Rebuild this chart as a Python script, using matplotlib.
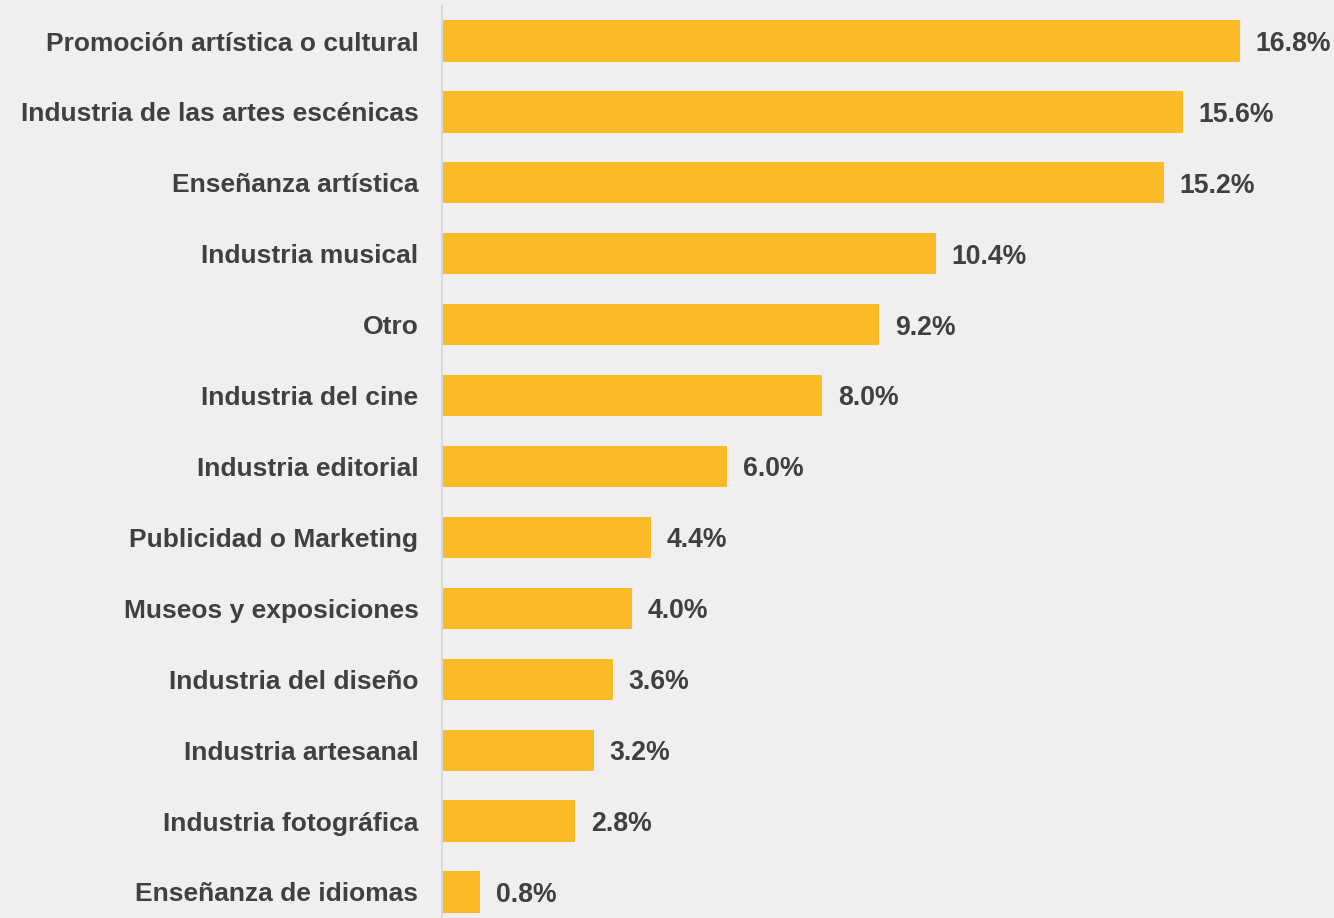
import matplotlib.pyplot as plt

# data
categories = ["Promoción artística o cultural", "Industria de las artes escénicas",
              "Enseñanza artística", "Industria musical", "Otro", "Industria del cine",
              "Industria editorial", "Publicidad o Marketing", "Museos y exposiciones",
              "Industria del diseño", "Industria artesanal", "Industria fotográfica",
              "Enseñanza de idiomas"]
values = [16.8, 15.6, 15.2, 10.4, 9.2, 8.0, 6.0, 4.4, 4.0, 3.6, 3.2, 2.8, 0.8]

bg = '#F0EEF0'
bar_color = '#FBBB28'
txt_color = '#404040'

plt.rcParams['font.family'] = ['Liberation Sans', 'DejaVu Sans']

fig = plt.figure(figsize=(13.34, 9.18), dpi=100, facecolor=bg)
ax = fig.add_axes([442 / 1334, 0, 892 / 1334, 912 / 918], facecolor=bg)

pos = list(range(len(categories)))
ax.barh(pos, values, height=0.58, color=bar_color, zorder=2)

for p, v in zip(pos, values):
    ax.text(v + 0.33, p + 0.04, '%.1f%%' % v, va='center', ha='left',
            fontsize=19.2, fontweight='bold', color=txt_color)

ax.set_xlim(0, 892 / 47.5)
ax.set_ylim(12.367, -0.494)
ax.set_yticks(pos)
ax.set_yticklabels(categories, fontsize=19, fontweight='bold', color=txt_color)
ax.tick_params(axis='y', length=0, pad=17)
ax.set_xticks([])

for s in ['top', 'right', 'bottom']:
    ax.spines[s].set_visible(False)
ax.spines['left'].set_color('#D9D9D9')
ax.spines['left'].set_linewidth(1.5)

fig.savefig('out.png', dpi=100, facecolor=bg)
